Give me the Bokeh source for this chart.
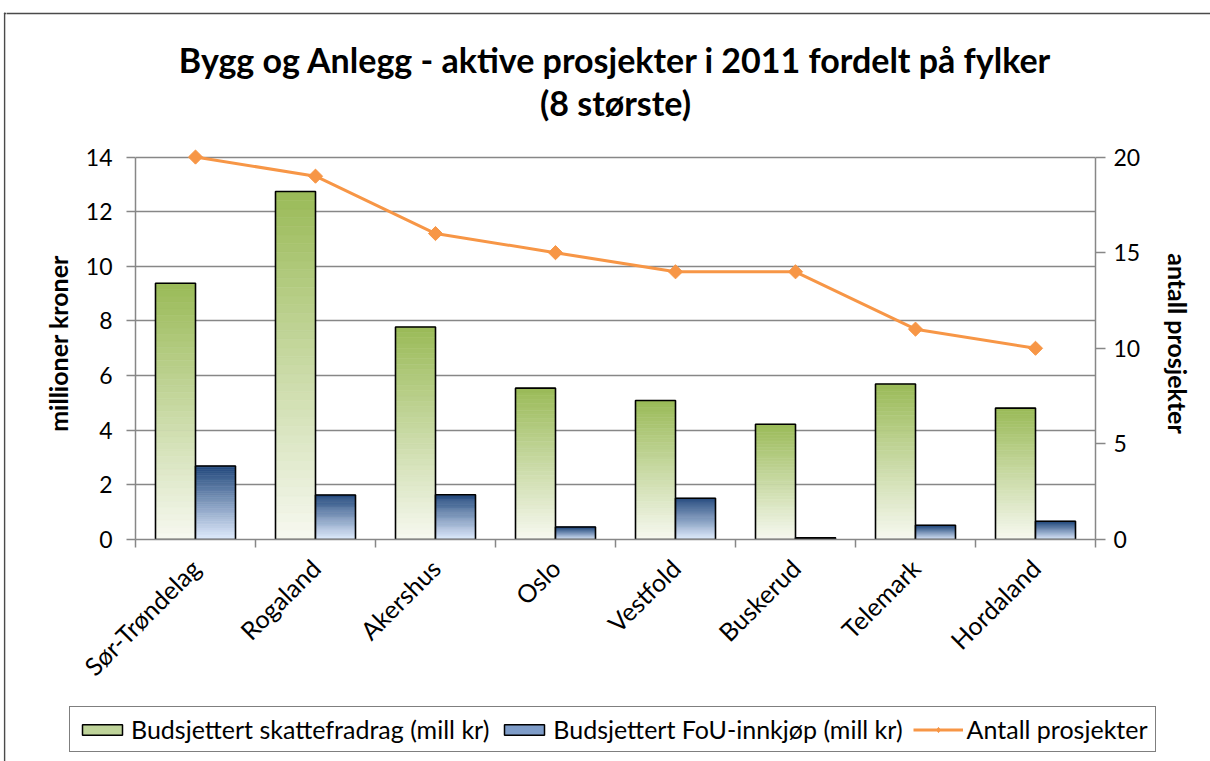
import numpy as np
from bokeh.plotting import figure
from bokeh.layouts import column, row
from bokeh.models import (Range1d, LinearAxis, FixedTicker, ColumnDataSource, Legend,
                          LegendItem, Label, BoxAnnotation)
from bokeh.embed import file_html
from bokeh.resources import INLINE

# ---------------- data ----------------
categories = ["Sør-Trøndelag", "Rogaland", "Akershus", "Oslo", "Vestfold",
              "Buskerud", "Telemark", "Hordaland"]
skattefradrag = [9.38, 12.74, 7.78, 5.54, 5.09, 4.22, 5.69, 4.81]   # mill kr
fou_innkjop = [2.69, 1.63, 1.64, 0.46, 1.51, 0.06, 0.52, 0.67]      # mill kr
antall_prosjekter = [20, 19, 16, 15, 14, 14, 11, 10]
left_ticks = [0, 2, 4, 6, 8, 10, 12, 14]
right_ticks = [0, 5, 10, 15, 20]

title_line1 = "Bygg og Anlegg - aktive prosjekter i 2011 fordelt på fylker"
title_line2 = "(8 største)"
legend_labels = ["Budsjettert skattefradrag (mill kr)",
                 "Budsjettert FoU-innkjøp (mill kr)",
                 "Antall prosjekter"]

FONT = "Lato"
GRID = "#878787"
ORANGE = "#F79646"
BORDER = "#4a4a4a"

W, H = 1210, 761
STRIP = 6
TITLE_H, MAIN_H = 142, 558
LEG_H = H - TITLE_H - MAIN_H


def blank_fig(w, h):
    f = figure(width=w, height=h, x_range=Range1d(0, 1), y_range=Range1d(0, 1),
               output_backend="svg", toolbar_location=None, x_axis_type=None,
               y_axis_type=None, min_border=0, title=None, frame_align=False)
    f.outline_line_color = None
    f.grid.visible = False
    return f


def box(fig, left, right, top, bottom):
    fig.add_layout(BoxAnnotation(left=left, right=right, top=top, bottom=bottom,
                                 left_units="screen", right_units="screen",
                                 top_units="screen", bottom_units="screen",
                                 fill_color=BORDER, fill_alpha=1, line_color=None))


# ---------------- left border strip ----------------
strip = blank_fig(STRIP, H)
box(strip, 3.4, 4.8, H - 12.3, -5)
box(strip, 3.4, 20, H - 12.3, H - 13.7)

# ---------------- title figure ----------------
tfig = blank_fig(W - STRIP, TITLE_H)
box(tfig, -5, W, TITLE_H - 12.3, TITLE_H - 13.7)
for txt, yy in ((title_line1, TITLE_H - 59), (title_line2, TITLE_H - 102)):
    tfig.add_layout(Label(x=615 - STRIP, y=yy, x_units="screen", y_units="screen", text=txt,
                          text_align="center", text_baseline="middle", text_font=FONT,
                          text_font_style="bold", text_font_size="34px", text_color="black"))

# ---------------- main figure ----------------
YMAX, YMAX_R = 14.35, 20.5
p = figure(width=W - STRIP, height=MAIN_H, x_range=Range1d(0, len(categories)),
           y_range=Range1d(0, YMAX), output_backend="svg", toolbar_location=None, title=None,
           min_border_left=135 - STRIP, min_border_right=W - 1095, min_border_top=5,
           min_border_bottom=MAIN_H - 5 - 392, frame_align=False)
p.extra_y_ranges = {"right": Range1d(0, YMAX_R)}
p.outline_line_color = None

N = 40
centers = np.arange(len(categories)) + 0.5
bw = 1.0 / 3.0


def lerp(c0, c1, t):
    return "#%02x%02x%02x" % tuple(int(round(a + (b - a) * t)) for a, b in zip(c0, c1))


def gradient_bars(values, xc, light, dark):
    l, r, b, t, col = [], [], [], [], []
    for x, v in zip(xc, values):
        for k in range(N):
            l.append(x - bw / 2)
            r.append(x + bw / 2)
            b.append(v * k / N)
            t.append(v * (k + 1) / N)
            col.append(lerp(light, dark, k / (N - 1)))
    src = ColumnDataSource(dict(left=l, right=r, bottom=b, top=t, color=col))
    p.quad(left="left", right="right", bottom="bottom", top="top", source=src,
           fill_color="color", line_color="color", line_width=0.6)
    p.quad(left=[x - bw / 2 for x in xc], right=[x + bw / 2 for x in xc],
           bottom=0, top=values, fill_alpha=0, line_color="black", line_width=1.6)


green_light, green_dark = (246, 248, 239), (155, 187, 89)
blue_light, blue_dark = (222, 234, 252), (36, 74, 126)
gradient_bars(skattefradrag, centers - bw / 2, green_light, green_dark)
gradient_bars(fou_innkjop, centers + bw / 2, blue_light, blue_dark)

p.line(centers, antall_prosjekter, y_range_name="right", line_color=ORANGE, line_width=3)
p.scatter(centers, antall_prosjekter, y_range_name="right", marker="square",
          angle=np.pi / 4, size=10, fill_color=ORANGE, line_color=ORANGE)

# axes
p.xaxis.ticker = FixedTicker(ticks=list(centers), minor_ticks=list(range(len(categories) + 1)))
p.xaxis.major_label_overrides = {float(c): name for c, name in zip(centers, categories)}
p.xaxis.major_label_orientation = np.pi / 4
p.xaxis.major_tick_out = 0
p.xaxis.major_tick_in = 0
p.xaxis.minor_tick_out = 8
p.xaxis.minor_tick_in = 0
p.xaxis.minor_tick_line_color = GRID
p.xaxis.minor_tick_line_width = 1.5
p.xaxis.axis_line_color = GRID
p.xaxis.axis_line_width = 1.5
p.xaxis.major_label_text_font = FONT
p.xaxis.major_label_text_font_size = "25px"
p.xaxis.major_label_text_color = "black"
p.xaxis.major_label_standoff = 16

p.yaxis.ticker = FixedTicker(ticks=left_ticks)
p.yaxis.axis_label = "millioner kroner"
p.yaxis.bounds = (0, 14)
right_axis = LinearAxis(y_range_name="right", ticker=FixedTicker(ticks=right_ticks),
                        axis_label="antall prosjekter", bounds=(0, 20))
p.add_layout(right_axis, "right")

for ax, tick_out, standoff, lab_standoff in ((p.yaxis[0], 9, 14, 10), (right_axis, 10, 8, 20)):
    ax.major_tick_out = tick_out
    ax.major_tick_in = 0
    ax.minor_tick_out = 0
    ax.minor_tick_in = 0
    ax.major_tick_line_color = GRID
    ax.major_tick_line_width = 1.5
    ax.axis_line_color = GRID
    ax.axis_line_width = 1.5
    ax.major_label_text_font = FONT
    ax.major_label_text_font_size = "23px"
    ax.major_label_text_color = "black"
    ax.major_label_standoff = standoff
    ax.axis_label_text_font = FONT
    ax.axis_label_text_font_size = "25px"
    ax.axis_label_text_font_style = "bold"
    ax.axis_label_text_color = "black"
    ax.axis_label_standoff = lab_standoff

p.xgrid.visible = False
p.ygrid.ticker = FixedTicker(ticks=left_ticks)
p.ygrid.grid_line_color = GRID
p.ygrid.grid_line_width = 1.5

# ---------------- legend figure ----------------
lfig = blank_fig(W - STRIP, LEG_H)
g_dummy = lfig.quad(left=centers - bw, right=centers, bottom=0, top=skattefradrag,
                    fill_color="#BFD49A", line_color="black", line_width=1.5, visible=False)
b_dummy = lfig.quad(left=centers, right=centers + bw, bottom=0, top=fou_innkjop,
                    fill_color="#7E9CC8", line_color="black", line_width=1.5, visible=False)
l_dummy = lfig.line(centers, antall_prosjekter, line_color=ORANGE, line_width=3, visible=False)
m_dummy = lfig.scatter(centers, antall_prosjekter, marker="diamond", size=16,
                       fill_color=ORANGE, line_color=ORANGE, visible=False)
legend = Legend(items=[LegendItem(label=legend_labels[0], renderers=[g_dummy]),
                       LegendItem(label=legend_labels[1], renderers=[b_dummy]),
                       LegendItem(label=legend_labels[2], renderers=[l_dummy, m_dummy])],
                orientation="horizontal", location=(69 - STRIP, 9),
                label_text_font=FONT, label_text_font_size="25px", label_text_color="black",
                glyph_width=50, glyph_height=13, label_standoff=4, spacing=10,
                padding=7, margin=0, border_line_color="black", border_line_width=1.5,
                background_fill_color="white", background_fill_alpha=1)
lfig.add_layout(legend, "center")

layout = row(strip, column(tfig, p, lfig, spacing=0), spacing=0)
open("out.html", "w").write(file_html(layout, INLINE))
